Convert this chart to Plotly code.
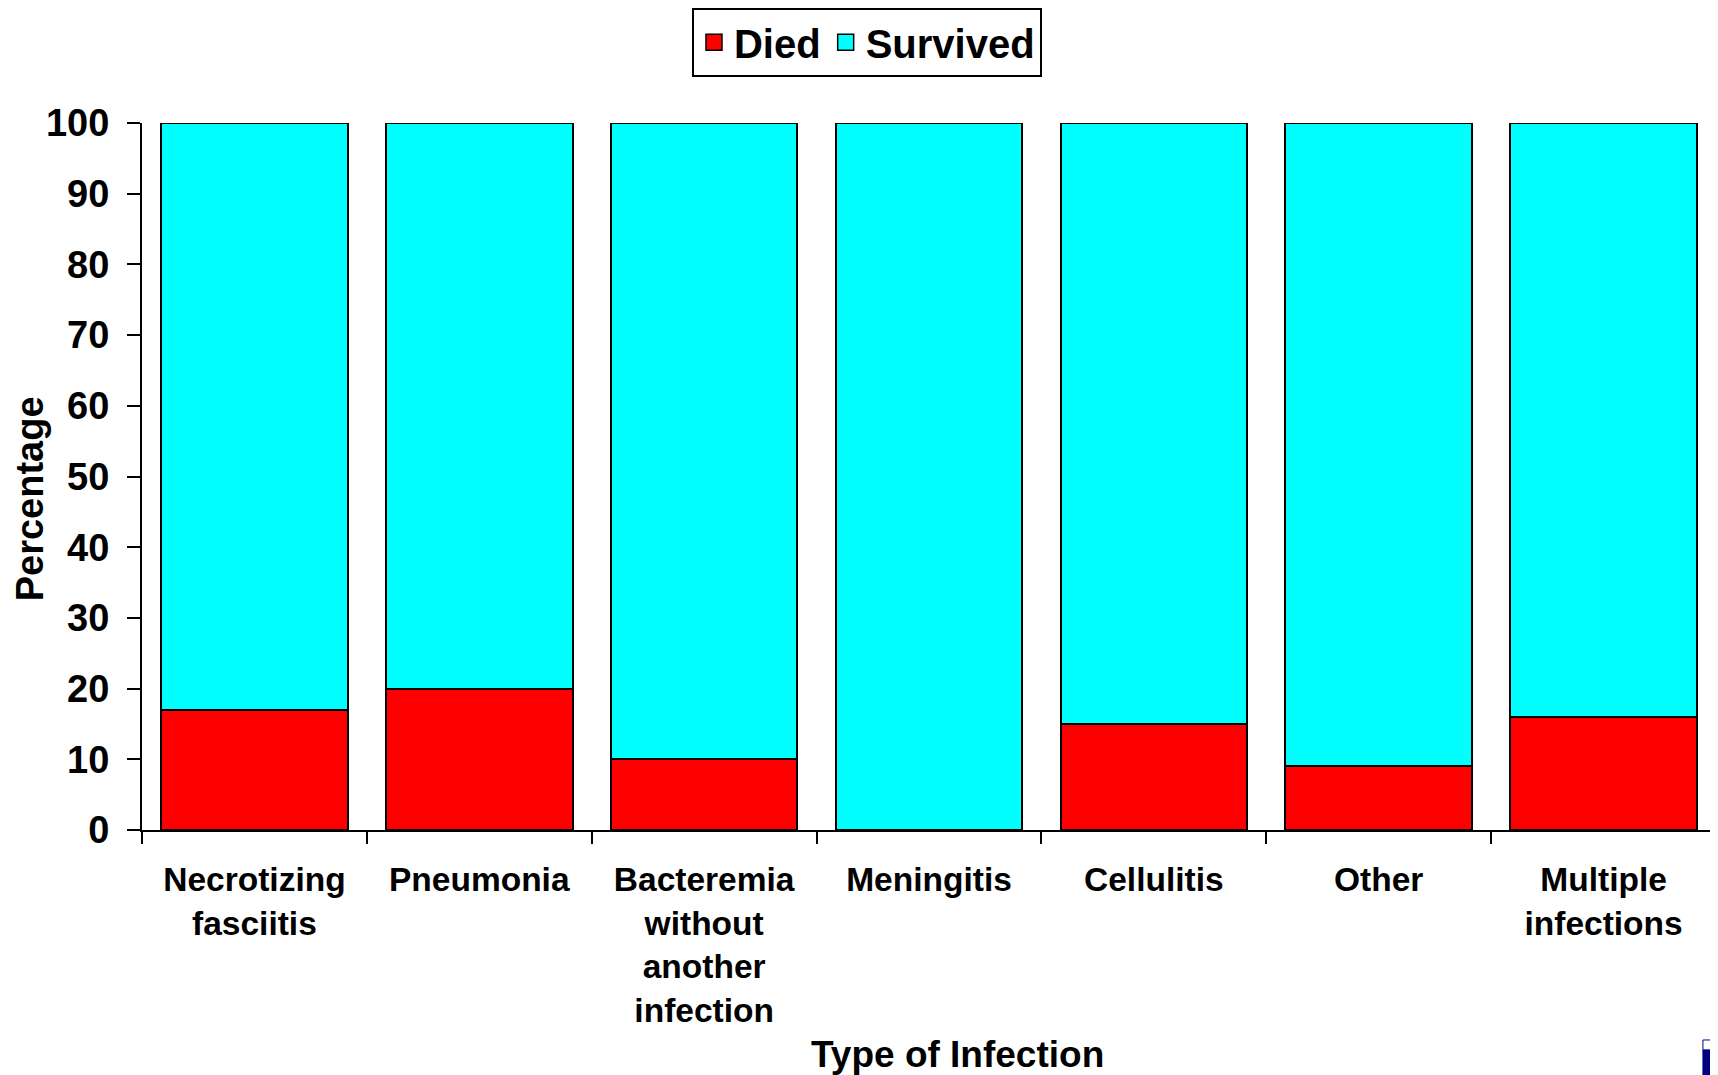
import plotly.graph_objects as go

categories = ["Necrotizing<br>fasciitis", "Pneumonia", "Bacteremia<br>without<br>another<br>infection",
              "Meningitis", "Cellulitis", "Other", "Multiple<br>infections"]
died = [17, 20, 10, 0, 15, 9, 16]
survived = [83, 80, 90, 100, 85, 91, 84]
y_ticks = [0, 10, 20, 30, 40, 50, 60, 70, 80, 90, 100]
series_names = ["Died", "Survived"]
series_colors = ["#FF0000", "#00FFFF"]

FONT = "Liberation Sans, Arial, sans-serif"

fig = go.Figure()
for name, vals, col in zip(series_names, [died, survived], series_colors):
    fig.add_trace(go.Bar(name=name, x=categories, y=vals, showlegend=False, legendgroup=name,
                         marker=dict(color=col, line=dict(color="black", width=2))))
# legend entries with larger square swatches
for name, col in zip(series_names, series_colors):
    fig.add_trace(go.Scatter(name=name, x=[None], y=[None], mode="markers", legendgroup=name,
                             marker=dict(symbol="square", size=22, color=col,
                                         line=dict(color="black", width=1.5))))

fig.update_layout(
    barmode="stack",
    bargap=0.17,
    width=1718, height=1075,
    paper_bgcolor="white", plot_bgcolor="white",
    margin=dict(l=134, r=10, t=115, b=253, autoexpand=False),
    font=dict(family=FONT, color="black", size=32),
    legend=dict(orientation="h", x=0.4606, xanchor="center", y=1.163, yanchor="top",
                bordercolor="black", borderwidth=2,
                font=dict(family=FONT, size=40, color="black", weight="bold"),
                traceorder="normal", itemwidth=30, tracegroupgap=0),
    showlegend=True,
    annotations=[
        dict(text="Type of Infection", xref="paper", yref="paper", x=0.518, y=-0.318,
             xanchor="center", yanchor="middle", showarrow=False,
             font=dict(family=FONT, size=37, color="black", weight="bold")),
        dict(text="Percentage", xref="paper", yref="paper", x=-0.0712, y=0.469,
             xanchor="center", yanchor="middle", showarrow=False, textangle=-90,
             font=dict(family=FONT, size=38, color="black", weight="bold")),
    ],
)
fig.update_xaxes(
    automargin=False,
    showline=True, linecolor="black", linewidth=2,
    ticks="outside", tickson="boundaries", ticklen=12, tickwidth=2, tickcolor="black",
    tickfont=dict(family=FONT, size=33.5, color="black", weight="bold"),
    ticklabelstandoff=19,
    showgrid=False,
)
fig.update_yaxes(
    automargin=False,
    range=[0, 100], tickvals=y_ticks, ticktext=[str(v) for v in y_ticks],
    showline=True, linecolor="black", linewidth=2,
    ticks="outside", ticklen=13, tickwidth=2, tickcolor="black",
    tickfont=dict(family=FONT, size=38, color="black", weight="bold"),
    ticklabelstandoff=10,
    showgrid=False, zeroline=False,
)

# small logo fragment in bottom-right corner
fig.add_shape(type="rect", xref="paper", yref="paper", x0=0.9917, x1=1.004, y0=-0.36, y1=-0.311,
              fillcolor="#000080", line=dict(color="#000080", width=1))
fig.add_shape(type="rect", xref="paper", yref="paper", x0=0.9917, x1=1.004, y0=-0.311, y1=-0.297,
              fillcolor="white", line=dict(color="#000080", width=1))

fig.write_html("out.html")
